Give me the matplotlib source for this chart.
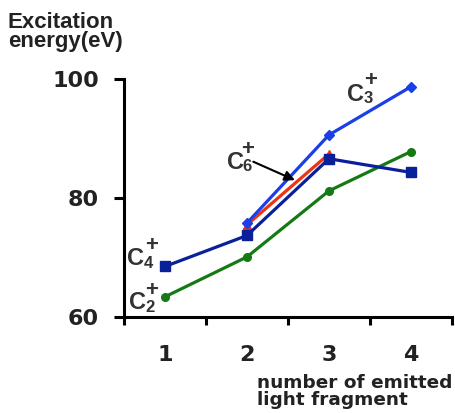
import numpy as np
import matplotlib.pyplot as plt

# data
n_fragments = [1, 2, 3, 4]
c2_x = [1, 2, 3, 4]
c2_energy = [63.4, 70.1, 81.2, 87.8]
c4_x = [1, 2, 3, 4]
c4_energy = [68.5, 73.7, 86.6, 84.3]
c6_x = [2, 3]
c6_energy = [75.5, 87.4]
c3_x = [2, 3, 4]
c3_energy = [75.8, 90.6, 98.7]
y_ticks = [60, 80, 100]

fig = plt.figure(figsize=(4.56, 4.13), dpi=100)
ax = fig.add_axes([0.272, 0.2324, 0.719, 0.5763])

ax.plot(c2_x, c2_energy, color='#157a15', lw=2.3, marker='o', ms=5.5, clip_on=False, zorder=3)
ax.plot(c6_x, c6_energy, color='#ee3311', lw=2.3, marker='^', ms=6, clip_on=False, zorder=4)
ax.plot(c4_x, c4_energy, color='#0a1f9a', lw=2.3, marker='s', ms=7.5, clip_on=False, zorder=5)
ax.plot(c3_x, c3_energy, color='#1a3ee8', lw=2.3, marker='D', ms=5, clip_on=False, zorder=6)

ax.set_xlim(0.5, 4.5)
ax.set_ylim(60, 100)

for side in ['top', 'right']:
    ax.spines[side].set_visible(False)
for side in ['left', 'bottom']:
    ax.spines[side].set_linewidth(2.2)

ax.set_yticks(y_ticks)
ax.set_yticklabels([str(v) for v in y_ticks], fontsize=16, fontweight='bold', color='#222222')
ax.tick_params(axis='y', length=7, width=2.2, pad=11)

# tick marks between categories, labels centred on categories
ax.set_xticks(np.arange(0.5, 4.6, 1.0))
ax.set_xticklabels([])
ax.tick_params(axis='x', which='major', length=6, width=2.2)
ax.set_xticks(n_fragments, minor=True)
ax.set_xticklabels([str(v) for v in n_fragments], minor=True,
                   fontsize=16, fontweight='bold', color='#222222')
ax.tick_params(axis='x', which='minor', length=0, pad=20)

# axis titles
fig.text(8 / 456, 1 - 28 / 413, 'Excitation', fontsize=16, fontweight='bold',
         family='Liberation Sans', color='#222222', va='baseline', ha='left')
fig.text(8 / 456, 1 - 47 / 413, 'energy(eV)', fontsize=16, fontweight='bold',
         family='Liberation Sans', color='#222222', va='baseline', ha='left')
fig.text(257 / 456, 1 - 388 / 413, 'number of emitted', fontsize=13.3, fontweight='bold',
         color='#222222', va='baseline', ha='left')
fig.text(257 / 456, 1 - 405 / 413, 'light fragment', fontsize=13.3, fontweight='bold',
         color='#222222', va='baseline', ha='left')


def ion_label(x, y, n, sub_off, sup_off):
    style = dict(family='Liberation Sans', fontweight='bold', color='#333333',
                 ha='center', va='center', zorder=8)
    ax.text(x, y, 'C', fontsize=17, **style)
    ax.annotate(n, xy=(x, y), xytext=sub_off, textcoords='offset pixels', fontsize=12, **style)
    ax.annotate('+', xy=(x, y), xytext=sup_off, textcoords='offset pixels', fontsize=16, **style)


ion_label(3.329, 97.45, '3', (12, -4.5), (14.3, 13.4))
ion_label(1.857, 86.05, '6', (12, -4.2), (12.2, 12.8))
ion_label(0.646, 69.8, '4', (12.5, -4.3), (15.5, 13))
ion_label(0.665, 62.44, '2', (12.5, -4.5), (14.5, 12))

ax.annotate('', xy=(2.585, 83.0), xytext=(2.077, 86.1),
            arrowprops=dict(arrowstyle='-|>', color='black', lw=1.5,
                            shrinkA=0, shrinkB=0, mutation_scale=15), zorder=7)

fig.savefig('out.png', dpi=100)
